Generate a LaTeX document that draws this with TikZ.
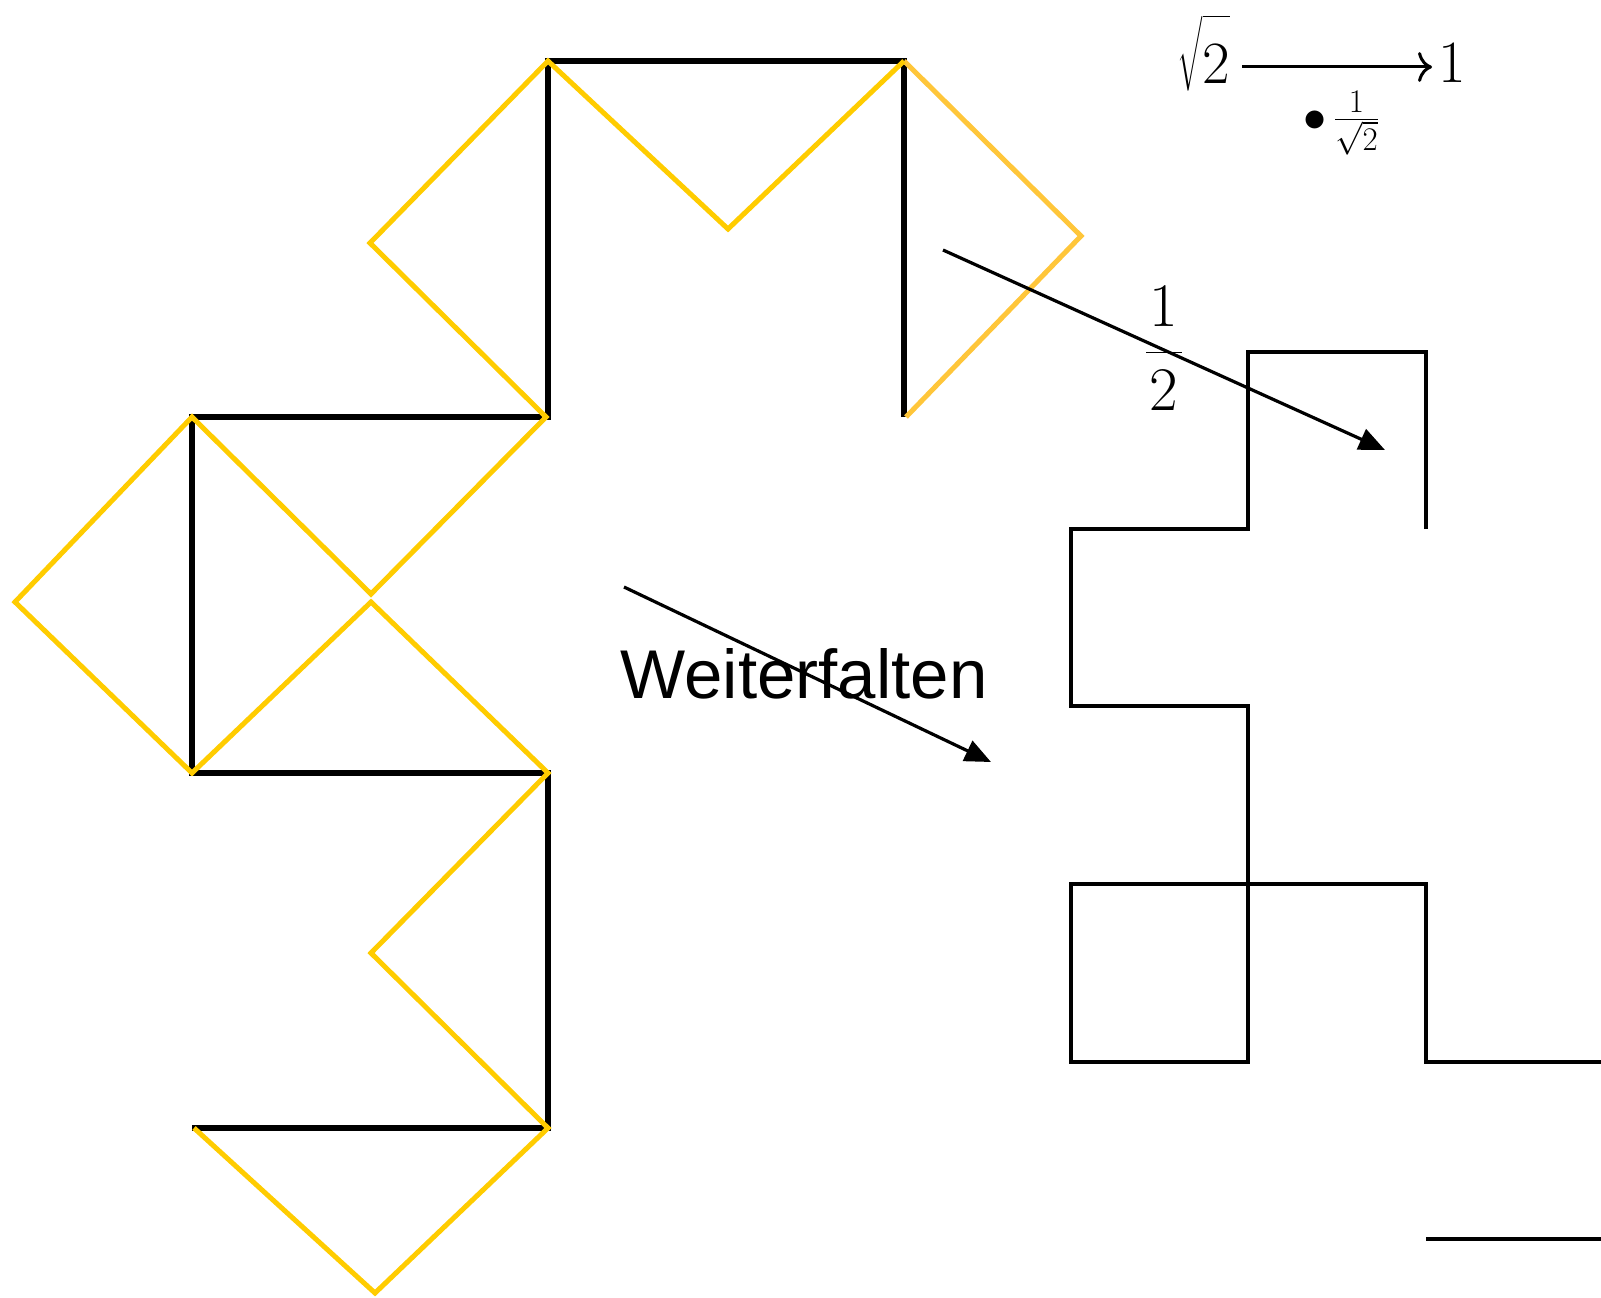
\RequirePackage{fix-cm}
\documentclass[tikz,border=0pt]{standalone}
\usepackage{amsmath}
\usepackage{fontspec}
\newfontfamily\labelfont{Liberation Sans}
\usepackage{xcolor}
\definecolor{fdYellow}{RGB}{255,204,0}
\definecolor{fdAmber}{RGB}{255,198,58}
\usepackage{tikz}
\usetikzlibrary{arrows.meta}

\begin{document}
\begin{tikzpicture}[x=1pt,y=-1pt,
  bk/.style={line width=6pt,black},
  yl/.style={line width=5pt,fdYellow},
  ya/.style={line width=5pt,fdAmber},
  sm/.style={line width=3.5pt,black},
  ar/.style={line width=3.2pt,-{Triangle[length=26pt,width=22pt]}},
  mt/.style={anchor=base,inner sep=0pt,font=\fontsize{60}{62}\selectfont}]
  \useasboundingbox (0,0) rectangle (1601,1298);
  \draw[bk] (904,417) -- (904,61) -- (548,61) -- (548,417) -- (192,417) -- (192,773)
    -- (548,773) -- (548,1128) -- (192,1128);
  \draw[ya] (906,417) -- (1081,236) -- (904,61);
  \draw[yl] (904,61) -- (728,229) -- (548,61) -- (370,243) -- (546,417) -- (371,594)
    -- (192,417) -- (15,602) -- (192,773) -- (371,602) -- (548,773) -- (371,953)
    -- (548,1128) -- (375,1293) -- (194,1128);
  \draw[sm] (1426,529) -- (1426,352) -- (1248,352) -- (1248,529) -- (1071,529) -- (1071,706)
    -- (1248,706) -- (1248,1062) -- (1071,1062) -- (1071,884) -- (1426,884) -- (1426,1062)
    -- (1601,1062);
  \draw[sm] (1426,1239) -- (1601,1239);
  \node[mt] (root) at (1204,84) {$\sqrt{\rule{0pt}{0.98em}2}$};
  \node[mt] (one) at (1452,82) {$1$};
  \node[mt,font=\fontsize{66}{68}\selectfont] (fac) at (1341,131) {$\scriptstyle\bullet\,\frac{1}{\sqrt{2}}$};
  \draw[line width=3pt,-{To[length=14pt,width=30pt]},shorten <=12pt,shorten >=6pt]
    ([yshift=17pt]root.base east) -- ([yshift=15pt]one.base west);
  \node[anchor=base,inner sep=0pt,font=\fontsize{62}{64}\selectfont] (half) at (1164,368) {$\displaystyle\frac{\mkern1mu 1\mkern1mu}{\mkern1mu 2\mkern1mu}$};
  \node[anchor=base,inner sep=0pt,font=\labelfont\fontsize{69}{72}\selectfont] (fold) at (804,698) {Weiterfalten};
  \coordinate (s1) at (943,250);
  \coordinate (e1) at (1385,450);
  \coordinate (s2) at (624,587);
  \coordinate (e2) at (991,762);
  \draw[ar] (s1) -- (e1);
  \draw[ar] (s2) -- (e2);
\end{tikzpicture}
\end{document}
